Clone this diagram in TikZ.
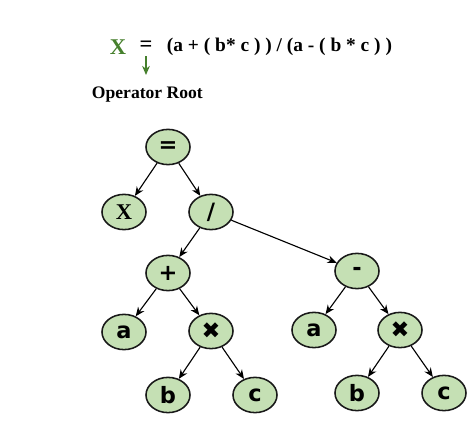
\documentclass[tikz,border=0pt]{standalone}
\usepackage{fontspec}
\setmainfont{Liberation Serif}
\newfontfamily\heavyfont{DejaVu Sans}
\usetikzlibrary{arrows.meta,shapes.geometric}
\definecolor{nodegreen}{RGB}{197,224,180}
\definecolor{rootgreen}{RGB}{70,128,45}

\begin{document}
\begin{tikzpicture}[
  x=0.025cm, y=-0.025cm,
  >={Stealth[length=6.5pt,width=5.5pt]},
  tnode/.style={ellipse, draw=black!90, line width=1.1pt, fill=nodegreen,
    minimum width=1.1cm, minimum height=0.88cm, inner sep=0pt},
  opfont/.style={font=\heavyfont\bfseries\fontsize{16}{16}\selectfont},
  varfont/.style={font=\bfseries\fontsize{16}{16}\selectfont},
  link/.style={->, line width=0.8pt},
]
\useasboundingbox (0,0) rectangle (474,427);

% Expression heading
\node[varfont, text=rootgreen] (lhs) at (118,47) {X};
\node[varfont] (eqsign) at (146,46) {=};
\node[anchor=west, font=\bfseries\fontsize{13.8}{15}\selectfont] (rhs) at (162,47) {(a + ( b* c ) ) / (a - ( b * c ) )};
\coordinate (rootmark) at (146,75);
\draw[rootgreen, ->, line width=0.8pt] (eqsign) -- (rootmark);
\node[anchor=west, font=\bfseries\fontsize{12.5}{14}\selectfont] (rootlabel) at (87,95) {Operator Root};

% Tree nodes
\node[tnode, opfont] (eq) at (168,147) {=};
\node[tnode, varfont] (x) at (124,212) {X};
\node[tnode, opfont] (div) at (211,212) {/};
\node[tnode, opfont] (plus) at (168,273) {+};
\node[tnode, opfont] (minus) at (357,271) {-};
\node[tnode, opfont] (a1) at (124,332) {a};
\node[tnode, opfont] (mul1) at (211,331) {✖};
\node[tnode, opfont] (b1) at (168,395) {b};
\node[tnode, opfont] (c1) at (255,395) {c};
\node[tnode, opfont] (a2) at (314,330) {a};
\node[tnode, opfont] (mul2) at (400,330) {✖};
\node[tnode, opfont] (b2) at (357,393) {b};
\node[tnode, opfont] (c2) at (444,393) {c};

% Edges
\foreach \p/\c in {eq/x, eq/div, div/plus, div/minus, plus/a1, plus/mul1,
  mul1/b1, mul1/c1, minus/a2, minus/mul2, mul2/b2, mul2/c2} {
  \draw[link] (\p) -- (\c);
}
\end{tikzpicture}
\end{document}
